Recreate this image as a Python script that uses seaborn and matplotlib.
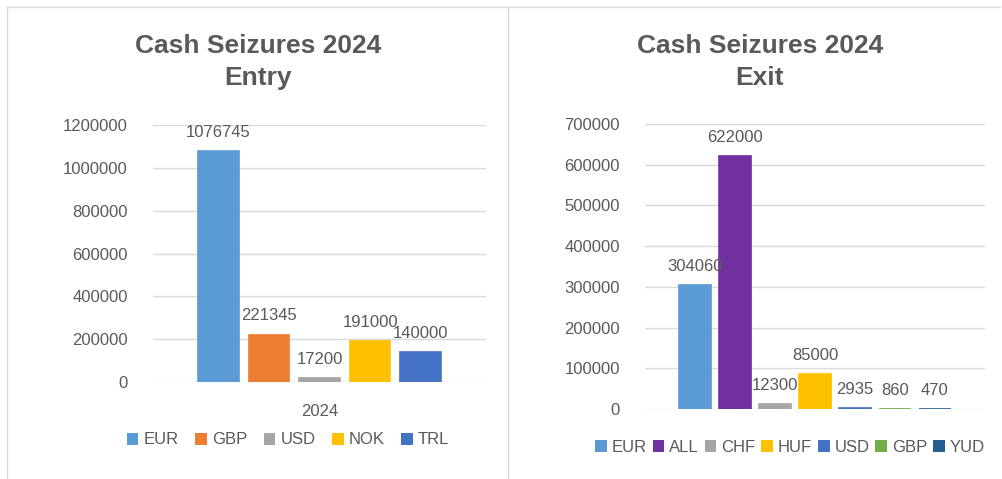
import matplotlib
matplotlib.use("Agg")
import matplotlib.pyplot as plt
import seaborn as sns
import pandas as pd
from matplotlib.patches import Patch
from matplotlib.lines import Line2D

sns.set_theme(style="white")
plt.rcParams['font.family'] = ['Liberation Sans', 'DejaVu Sans']

# ---- data ----
entry_currencies = ["EUR", "GBP", "USD", "NOK", "TRL"]
entry_values = [1076745, 221345, 17200, 191000, 140000]
entry_colors = ["#5B9BD5", "#ED7D31", "#A5A5A5", "#FFC000", "#4472C4"]

exit_currencies = ["EUR", "ALL", "CHF", "HUF", "USD", "GBP", "YUD"]
exit_values = [304060, 622000, 12300, 85000, 2935, 860, 470]
exit_colors = ["#5B9BD5", "#7030A0", "#A5A5A5", "#FFC000", "#4472C4", "#70AD47", "#255E91"]

year_label = "2024"
entry_ticks = [0, 200000, 400000, 600000, 800000, 1000000, 1200000]
exit_ticks = [0, 100000, 200000, 300000, 400000, 500000, 600000, 700000]

W, H = 1003, 479
fig = plt.figure(figsize=(W / 100, H / 100), dpi=100)
fig.patch.set_facecolor("white")

TXT = "#595959"
GRID = "#D9D9D9"

def px_axes(x0, x1, ytop, ybot):
    return fig.add_axes([x0 / W, 1 - ybot / H, (x1 - x0) / W, (ybot - ytop) / H])

def draw(ax, cats, vals, cols, ticks, ymax, span, show_year, title, title_x,
         legend_y, legend_x, colsp):
    df = pd.DataFrame({"year": [year_label] * len(cats), "currency": cats, "value": vals})
    sns.barplot(data=df, x="year", y="value", hue="currency", hue_order=cats,
                palette=cols, width=0.8, gap=0.2, ax=ax, saturation=1, legend=False)
    # thin edge in the bar's own colour so tiny values stay visible
    for patch in ax.patches:
        patch.set_edgecolor(patch.get_facecolor())
        patch.set_linewidth(1.2)
    ax.set_ylim(0, ymax)
    ax.set_xlim(-span / 2, span / 2)
    ax.set_yticks(ticks)
    ax.set_yticklabels([str(t) for t in ticks], color=TXT, fontsize=12)
    ax.tick_params(axis="y", length=0, pad=18)
    ax.tick_params(axis="x", length=0, pad=16)
    if show_year:
        ax.set_xticks([0])
        ax.set_xticklabels([year_label], color=TXT, fontsize=12)
    else:
        ax.set_xticks([])
    ax.set_xlabel("")
    ax.set_ylabel("")
    for s in ax.spines.values():
        s.set_visible(False)
    ax.yaxis.grid(True, color=GRID, linewidth=1)
    ax.set_axisbelow(True)
    for c in ax.containers:
        ax.bar_label(c, fmt="%d", padding=8, color=TXT, fontsize=12)
    fig.text(title_x / W, 1 - 62 / H, title, ha="center", va="center",
             fontsize=19, fontweight="bold", color=TXT, linespacing=1.45)
    handles = [Patch(facecolor=c, edgecolor="none") for c in cols]
    fig.legend(handles, cats, loc="center", bbox_to_anchor=(legend_x / W, 1 - legend_y / H),
               ncol=len(cats), frameon=False, handlelength=0.7, handleheight=0.7,
               handletextpad=0.3, columnspacing=colsp, fontsize=12, labelcolor=TXT)

ax1 = px_axes(153, 486, 125, 382)
draw(ax1, entry_currencies, entry_values, entry_colors, entry_ticks, 1200000,
     0.8 * 333 / 253, True, "Cash Seizures 2024\nEntry", 258, 440, 288, 1.0)

ax2 = px_axes(645, 985, 124, 409)
draw(ax2, exit_currencies, exit_values, exit_colors, exit_ticks, 700000,
     0.8 * 340 / 279, False, "Cash Seizures 2024\nExit", 760, 447, 790, 0.35)

# panel borders
border = "#D9D9D9"
fig.add_artist(Line2D([7 / W, 1000 / W], [1 - 7 / H, 1 - 7 / H], color=border, lw=1))
fig.add_artist(Line2D([7 / W, 7 / W], [1 - 7 / H, 0], color=border, lw=1))
fig.add_artist(Line2D([508 / W, 508 / W], [1 - 7 / H, 0], color=border, lw=1))

fig.savefig("out.png", dpi=100, facecolor="white")
